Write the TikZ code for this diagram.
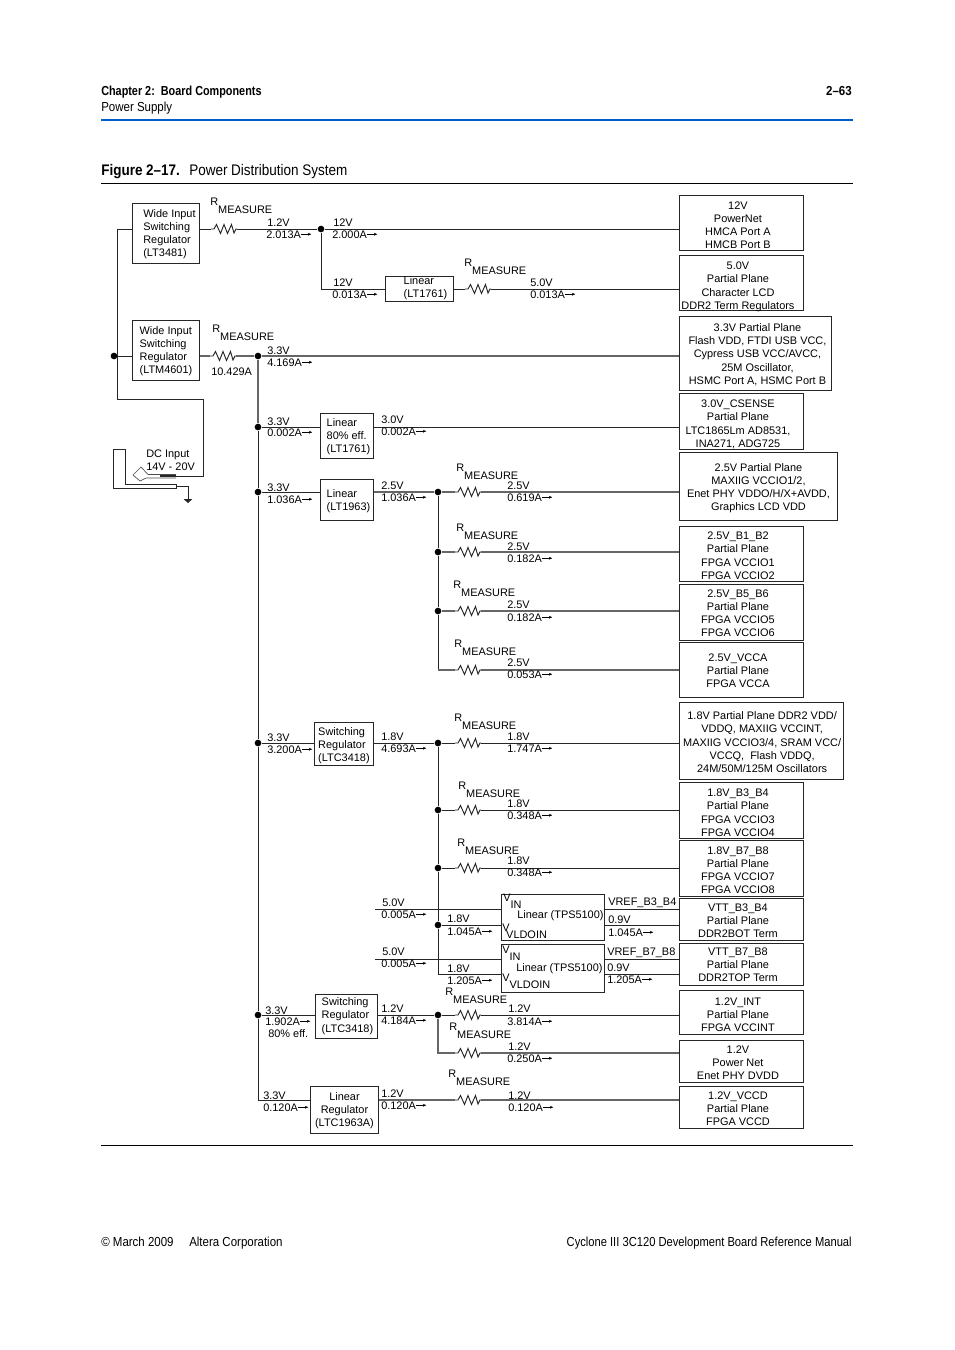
\documentclass[tikz,border=0pt]{standalone}
\usepackage{fontspec}
\usepackage{tikz}
\usetikzlibrary{arrows.meta, calc}
\setmainfont{Liberation Sans}
\newfontfamily\narrowfont[FakeStretch=0.88]{Liberation Sans}
\definecolor{hdblue}{RGB}{0, 94, 200}
% box text: drop, then paddings; no height of its own, so the box keeps its size
\newcommand{\cbox}[4]{\raisebox{-#1pt}[0pt][0pt]{\begin{tabular}{@{\hspace{#2pt}}c@{\hspace{#3pt}}}#4\end{tabular}}}
\newcommand{\lbox}[3]{\raisebox{-#1pt}[0pt][0pt]{\begin{tabular}{@{\hspace{#2pt}}l@{}}#3\end{tabular}}}

\begin{document}
\begin{tikzpicture}[
  x=0.75pt, y=-0.75pt,
  boxsize/.style 2 args={minimum width=#1*0.75pt, minimum height=#2*0.75pt},
  pwr/.style={draw=black!85, line width=0.7pt, anchor=north west, align=center, inner sep=0pt,
              font=\fontsize{8.2}{9.9}\selectfont},
  lbl/.style={anchor=base west, inner sep=0pt, font=\fontsize{8.2}{9.75}\selectfont},
  amp/.style={lbl, append after command={(\tikzlastnode.east) edge[ampar] +(10,0)}},
  ampar/.style={draw, -{Stealth[length=2.5pt, width=2.2pt]}, line width=0.35pt},
  rlbl/.style={lbl},
  dot/.style={circle, fill=black, inner sep=0pt, minimum size=5pt},
  wire/.style={draw=black!85, line width=0.7pt},
  wireg/.style={draw=black!60, line width=0.8pt},
  hdtext/.style={anchor=base west, inner sep=0pt, font=\narrowfont\fontsize{9.8}{12}\selectfont},
  figcap/.style={anchor=base west, inner sep=0pt, font=\narrowfont\fontsize{11.5}{14}\selectfont},
  rmeas/.pic={
    \fill[white] (-13,-6) rectangle (13,6);
    \draw[wire, line join=miter] (-13,0) -- (-10,0) -- (-7.5,-4.5) -- (-3.5,4.5) -- (0,-4.5) -- (3.5,4.5) -- (7.5,-4.5) -- (10,4) -- (12,0) -- (13,0);
  }
]
  \useasboundingbox (0,0) rectangle (954,1350);

  % page header and footer
  \node[hdtext, font=\narrowfont\bfseries\addfontfeature{FakeStretch=0.83}\fontsize{9.8}{12}\selectfont] (chapter) at (101,95) {Chapter 2:\ \ Board Components};
  \node[hdtext, font=\narrowfont\bfseries\fontsize{9.8}{12}\selectfont, anchor=base east] (pageno) at (852,95) {2–63};
  \node[hdtext] (section) at (101,111) {Power Supply};
  \coordinate (ruleTopL) at (101,120);
  \coordinate (ruleTopR) at (853,120);
  \draw[hdblue, line width=1.5pt] (ruleTopL) -- (ruleTopR);
  \node[figcap, font=\narrowfont\bfseries\fontsize{11.5}{14}\selectfont] (fignum) at (101,175) {Figure 2–17.};
  \node[figcap] (figtitle) at (189,175) {Power Distribution System};
  \coordinate (ruleCapL) at (101,183);
  \coordinate (ruleCapR) at (853,183);
  \draw[black, line width=0.7pt] (ruleCapL) -- (ruleCapR);
  \coordinate (ruleEndL) at (101,1145);
  \coordinate (ruleEndR) at (853,1145);
  \draw[black, line width=0.7pt] (ruleEndL) -- (ruleEndR);
  \node[hdtext] (copyr) at (101,1246) {© March 2009};
  \node[hdtext] (altera) at (189,1246) {Altera Corporation};
  \node[hdtext, font=\narrowfont\addfontfeature{FakeStretch=0.855}\fontsize{9.8}{12}\selectfont, anchor=base east] (manual) at (852,1246) {Cyclone III 3C120 Development Board Reference Manual};

  % load planes
  \node[pwr, boxsize={124}{55}] (p12v) at (679,195) {\cbox{4.5}{0}{5.25}{12V\\PowerNet\\HMCA Port A\\HMCB Port B}};
  \node[pwr, boxsize={124}{55}] (p50) at (679,255) {\cbox{4.9}{0}{5.25}{5.0V\\Partial Plane\\Character LCD\\DDR2 Term Regulators}};
  \node[pwr, boxsize={152}{74}] (p33) at (679,316) {\cbox{3.4}{3}{0}{3.3V Partial Plane\\Flash VDD, FTDI USB VCC,\\Cypress USB VCC/AVCC,\\25M Oscillator,\\HSMC Port A, HSMC Port B}};
  \node[pwr, boxsize={124}{56}] (p30) at (679,393) {\cbox{4.5}{0}{5.25}{3.0V\_CSENSE\\Partial Plane\\LTC1865Lm AD8531,\\INA271, ADG725}};
  \node[pwr, boxsize={158}{68}] (p25) at (679,452) {\cbox{3.4}{0}{0}{2.5V Partial Plane\\MAXIIG VCCIO1/2,\\Enet PHY VDDO/H/X+AVDD,\\Graphics LCD VDD}};
  \node[pwr, boxsize={124}{55}] (pB1) at (679,526) {\cbox{4.1}{0}{5.25}{2.5V\_B1\_B2\\Partial Plane\\FPGA VCCIO1\\FPGA VCCIO2}};
  \node[pwr, boxsize={124}{56}] (pB5) at (679,584) {\cbox{3.4}{0}{5.25}{2.5V\_B5\_B6\\Partial Plane\\FPGA VCCIO5\\FPGA VCCIO6}};
  \node[pwr, boxsize={124}{55}] (pVCCA) at (679,642) {\cbox{3.4}{0}{5.25}{2.5V\_VCCA\\Partial Plane\\FPGA VCCA}};
  \node[pwr, boxsize={164}{77}] (p18) at (679,702) {\cbox{3.8}{1}{0}{1.8V Partial Plane DDR2 VDD/\\VDDQ, MAXIIG VCCINT,\\MAXIIG VCCIO3/4, SRAM VCC/\\VCCQ,\ \ Flash VDDQ,\\24M/50M/125M Oscillators}};
  \node[pwr, boxsize={124}{56}] (pB3) at (679,782) {\cbox{4.5}{0}{5.25}{1.8V\_B3\_B4\\Partial Plane\\FPGA VCCIO3\\FPGA VCCIO4}};
  \node[pwr, boxsize={124}{56}] (pB7) at (679,840) {\cbox{4.1}{0}{5.25}{1.8V\_B7\_B8\\Partial Plane\\FPGA VCCIO7\\FPGA VCCIO8}};
  \node[pwr, boxsize={124}{42}] (pVTT3) at (679,898) {\cbox{3.8}{0}{5.25}{VTT\_B3\_B4\\Partial Plane\\DDR2BOT Term}};
  \node[pwr, boxsize={124}{42}] (pVTT7) at (679,943) {\cbox{3}{0}{5.25}{VTT\_B7\_B8\\Partial Plane\\DDR2TOP Term}};
  \node[pwr, boxsize={124}{44}] (pINT) at (679,990) {\cbox{4.5}{0}{5.25}{1.2V\_INT\\Partial Plane\\FPGA VCCINT}};
  \node[pwr, boxsize={124}{42}] (pENET) at (679,1040) {\cbox{3.8}{0}{5.25}{1.2V\\Power Net\\Enet PHY DVDD}};
  \node[pwr, boxsize={124}{42}] (pVCCD) at (679,1086) {\cbox{3.8}{0}{5.25}{1.2V\_VCCD\\Partial Plane\\FPGA VCCD}};

  % regulators
  \node[pwr, boxsize={67}{60}] (reg3481) at (132,203) {\lbox{2.6}{5.25}{Wide Input\\Switching\\Regulator\\(LT3481)}};
  \node[pwr, boxsize={67}{60}] (reg4601) at (132,320) {\lbox{2.6}{0}{Wide Input\\Switching\\Regulator\\(LTM4601)}};
  \node[pwr, boxsize={68}{25}] (lin1761) at (385,276) {\lbox{1.5}{9}{Linear\\(LT1761)}};
  \node[pwr, boxsize={53}{45}] (lin80) at (320,413) {\lbox{2.6}{2.25}{Linear\\80\% eff.\\(LT1761)}};
  \node[pwr, boxsize={53}{41}] (lin1963) at (320,479) {\lbox{3}{2.25}{Linear\\(LT1963)}};
  \node[pwr, boxsize={59}{43}] (sw18) at (314,722) {\lbox{3.4}{0}{Switching\\Regulator\\(LTC3418)}};
  \node[pwr, boxsize={103}{46}] (tpsA) at (501,894) {};
  \node[pwr, boxsize={103}{48}] (tpsB) at (501,944) {};
  \node[pwr, boxsize={62}{44}] (sw12) at (315,994) {\lbox{1.9}{1.5}{Switching\\Regulator\\(LTC3418)}};
  \node[pwr, boxsize={68}{47}] (lin12) at (310,1086) {\cbox{2.6}{0}{0}{Linear\\Regulator\\(LTC1963A)}};

  % junctions
  \node[dot] (jIn) at (114,356) {};
  \node[dot] (j12v) at (321,229) {};
  \node[dot] (j33) at (258,356) {};
  \node[dot] (j33b) at (258,427) {};
  \node[dot] (j33c) at (258,492) {};
  \node[dot] (j33d) at (258,743) {};
  \node[dot] (j33e) at (258,1015) {};
  \node[dot] (j25) at (438,492) {};
  \node[dot] (j25b) at (438,552) {};
  \node[dot] (j25c) at (438,611) {};
  \node[dot] (j18) at (438,743) {};
  \node[dot] (j18b) at (438,810) {};
  \node[dot] (j18c) at (438,868) {};
  \node[dot] (j18d) at (438,925) {};
  \node[dot] (j12) at (438,1015) {};

  \coordinate (inTop) at (117,229);
  \coordinate (inLow) at (117,399);
  \coordinate (inBend) at (203,399);
  \coordinate (jackEnd) at (203,476);
  \coordinate (jackHot) at (176,476);
  \coordinate (end25) at (438,670);
  \coordinate (end18) at (438,974);
  \coordinate (vinA) at (375,909);
  \coordinate (vinB) at (375,959);
  \coordinate (end12) at (438,1053);
  \coordinate (end33) at (258,1100);

  % input side
  \draw[wire] (reg3481.west |- inTop) -- (inTop) -- (inLow) -- (inBend) -- (jackEnd) -- (jackHot);
  \draw[wire] (jIn) -- (reg4601.west |- jIn);

  % 12V and 5V
  \draw[wire] (reg3481.east |- j12v) -- (j12v) -- (p12v.west |- j12v);
  \draw[wire] (j12v) |- (lin1761.west);
  \draw[wire] (lin1761.east) -- (p50.west |- lin1761.east);

  % 3.3V rail
  \draw[wireg] (reg4601.east |- j33) -- (j33) -- (p33.west |- j33);
  \draw[wireg] (j33) -- (j33b);
  \draw[wire] (j33b) -- (j33c) -- (j33d) -- (j33e) -- (end33);
  \draw[wire] (j33b) -- (lin80.west |- j33b);
  \draw[wire] (lin80.east |- j33b) -- (p30.west |- j33b);
  \draw[wire] (j33c) -- (lin1963.west |- j33c);

  % 2.5V
  \draw[wireg] (lin1963.east |- j25) -- (j25) -- (p25.west |- j25);
  \draw[wire] (j25) -- (j25b) -- (j25c) -- (end25);
  \draw[wireg] (j25b) -- (pB1.west |- j25b);
  \draw[wireg] (j25c) -- (pB5.west |- j25c);
  \draw[wireg] (end25) -- (pVCCA.west |- end25);

  % 1.8V
  \draw[wire] (j33d) -- (sw18.west |- j33d);
  \draw[wire] (sw18.east |- j18) -- (j18) -- (p18.west |- j18);
  \draw[wire] (j18) -- (j18b) -- (j18c) -- (j18d) -- (end18) -- (tpsB.west |- end18);
  \draw[wire] (j18b) -- (pB3.west |- j18b);
  \draw[wire] (j18c) -- (pB7.west |- j18c);
  \draw[wire] (j18d) -- (tpsA.west |- j18d);
  \draw[wire] (tpsA.east |- j18d) -- (pVTT3.west |- j18d);
  \draw[wire] (vinA) -- (tpsA.west |- vinA);
  \draw[wire] (tpsA.east |- vinA) -- (pVTT3.west |- vinA);
  \draw[wire] (vinB) -- (tpsB.west |- vinB);
  \draw[wire] (tpsB.east |- vinB) -- (pVTT7.west |- vinB);
  \draw[wire] (tpsB.east |- end18) -- (pVTT7.west |- end18);

  % 1.2V
  \draw[wire] (j33e) -- (sw12.west |- j33e);
  \draw[wire] (sw12.east |- j12) -- (j12) -- (pINT.west |- j12);
  \draw[wireg] (j12) -- (end12) -- (pENET.west |- end12);
  \draw[wire] (end33) -- (lin12.west |- end33);
  \draw[wireg] (lin12.east |- end33) -- (pVCCD.west |- end33);

  % sense resistors
  \pic (r3481) at (224,229) {rmeas};
  \pic (r4601) at (223,356) {rmeas};
  \pic (r50) at (478,289) {rmeas};
  \pic (r25) at (468,492) {rmeas};
  \pic (rB1) at (468,552) {rmeas};
  \pic (rB5) at (468,611) {rmeas};
  \pic (rVCCA) at (468,670) {rmeas};
  \pic (r18) at (468,743) {rmeas};
  \pic (rB3) at (468,810) {rmeas};
  \pic (rB7) at (468,868) {rmeas};
  \pic (rINT) at (468,1015) {rmeas};
  \pic (rENET) at (468,1053) {rmeas};
  \pic (rVCCD) at (468,1100) {rmeas};

  % resistor names
  \node[rlbl] (n3481) at (210,213) {\raisebox{6pt}{R}MEASURE};
  \node[rlbl] (n50) at (464,274) {\raisebox{6pt}{R}MEASURE};
  \node[rlbl] (n4601) at (212,340) {\raisebox{6pt}{R}MEASURE};
  \node[rlbl] (n25) at (456,479) {\raisebox{6pt}{R}MEASURE};
  \node[rlbl] (nB1) at (456,539) {\raisebox{6pt}{R}MEASURE};
  \node[rlbl] (nB5) at (453,596) {\raisebox{6pt}{R}MEASURE};
  \node[rlbl] (nVCCA) at (454,655) {\raisebox{6pt}{R}MEASURE};
  \node[rlbl] (n18) at (454,729) {\raisebox{6pt}{R}MEASURE};
  \node[rlbl] (nB3) at (458,797) {\raisebox{6pt}{R}MEASURE};
  \node[rlbl] (nB7) at (457,854) {\raisebox{6pt}{R}MEASURE};
  \node[rlbl] (nINT) at (445,1003) {\raisebox{6pt}{R}MEASURE};
  \node[rlbl] (nENET) at (449,1038) {\raisebox{6pt}{R}MEASURE};
  \node[rlbl] (nVCCD) at (448,1085) {\raisebox{6pt}{R}MEASURE};

  % rail values
  \node[lbl] (v1) at (267,226) {1.2V};
  \node[amp] (a1) at (266,238) {2.013A};
  \node[lbl] (v2) at (333,226) {12V};
  \node[amp] (a2) at (332,238) {2.000A};
  \node[lbl] (v3) at (333,286) {12V};
  \node[amp] (a3) at (332,298) {0.013A};
  \node[lbl] (v4) at (530,286) {5.0V};
  \node[amp] (a4) at (530,298) {0.013A};
  \node[lbl] (v5) at (267,354) {3.3V};
  \node[amp] (a5) at (267,366) {4.169A};
  \node[lbl] (a6) at (211,375) {10.429A};
  \node[lbl] (v7) at (267,425) {3.3V};
  \node[amp] (a7) at (267,436) {0.002A};
  \node[lbl] (v8) at (381,423) {3.0V};
  \node[amp] (a8) at (381,435) {0.002A};
  \node[lbl] (v9) at (267,491) {3.3V};
  \node[amp] (a9) at (267,503) {1.036A};
  \node[lbl] (v10) at (381,489) {2.5V};
  \node[amp] (a10) at (381,501) {1.036A};
  \node[lbl] (v11) at (507,489) {2.5V};
  \node[amp] (a11) at (507,501) {0.619A};
  \node[lbl] (v12) at (507,550) {2.5V};
  \node[amp] (a12) at (507,562) {0.182A};
  \node[lbl] (v13) at (507,608) {2.5V};
  \node[amp] (a13) at (507,621) {0.182A};
  \node[lbl] (v14) at (507,666) {2.5V};
  \node[amp] (a14) at (507,678) {0.053A};
  \node[lbl] (v15) at (267,741) {3.3V};
  \node[amp] (a15) at (267,753) {3.200A};
  \node[lbl] (v16) at (381,740) {1.8V};
  \node[amp] (a16) at (381,752) {4.693A};
  \node[lbl] (v17) at (507,740) {1.8V};
  \node[amp] (a17) at (507,752) {1.747A};
  \node[lbl] (v18) at (507,807) {1.8V};
  \node[amp] (a18) at (507,819) {0.348A};
  \node[lbl] (v19) at (507,864) {1.8V};
  \node[amp] (a19) at (507,876) {0.348A};
  \node[lbl] (v20) at (382,906) {5.0V};
  \node[amp] (a20) at (381,918) {0.005A};
  \node[lbl] (v21) at (447,922) {1.8V};
  \node[amp] (a21) at (447,935) {1.045A};
  \node[lbl] (v22) at (382,955) {5.0V};
  \node[amp] (a22) at (381,967) {0.005A};
  \node[lbl] (v23) at (447,972) {1.8V};
  \node[amp] (a23) at (447,984) {1.205A};
  \node[lbl] (v24) at (608,923) {0.9V};
  \node[amp] (a24) at (608,936) {1.045A};
  \node[lbl] (v25) at (607,971) {0.9V};
  \node[amp] (a25) at (607,983) {1.205A};
  \node[lbl] (v26) at (508,1012) {1.2V};
  \node[amp] (a26) at (507,1025) {3.814A};
  \node[lbl] (v27) at (508,1050) {1.2V};
  \node[amp] (a27) at (507,1062) {0.250A};
  \node[lbl] (v28) at (508,1099) {1.2V};
  \node[amp] (a28) at (508,1111) {0.120A};
  \node[lbl] (v29) at (265,1014) {3.3V};
  \node[amp] (a29) at (265,1025) {1.902A};
  \node[lbl] (eff29) at (268,1037) {80\% eff.};
  \node[lbl] (v30) at (381,1012) {1.2V};
  \node[amp] (a30) at (381,1024) {4.184A};
  \node[lbl] (v31) at (263,1099) {3.3V};
  \node[amp] (a31) at (263,1111) {0.120A};
  \node[lbl] (v32) at (381,1097) {1.2V};
  \node[amp] (a32) at (381,1109) {0.120A};

  % TPS5100 pins
  \node[lbl] (vinLblA) at (503,908) {\raisebox{5pt}{V}IN};
  \node[lbl] (tpsLblA) at (517,918) {Linear (TPS5100)};
  \node[lbl] (vldLblA) at (502,938) {\raisebox{5pt}{V}\hspace{-2.5pt}VLDOIN};
  \node[lbl] (vrefA) at (608,905) {VREF\_B3\_B4};
  \node[lbl] (vinLblB) at (502,960) {\raisebox{5pt}{V}IN};
  \node[lbl] (tpsLblB) at (516,971) {Linear (TPS5100)};
  \node[lbl] (vldLblB) at (502,988) {\raisebox{5pt}{V}VLDOIN};
  \node[lbl] (vrefB) at (607,955) {VREF\_B7\_B8};

  % DC jack
  \node[lbl] (dcIn) at (146,457) {DC Input};
  \node[lbl] (dcV) at (146,470) {14V - 20V};
  \coordinate (plugA) at (113,449);
  \coordinate (plugB) at (125,449);
  \coordinate (plugC) at (125,484);
  \coordinate (plugD) at (176,484);
  \coordinate (plugE) at (176,488);
  \coordinate (plugF) at (113,488);
  \draw[wire] (plugA) -- (plugB) -- (plugC) -- (plugD) -- (plugE) -- (plugF) -- cycle;
  \coordinate (gndA) at (176,486);
  \coordinate (gndC) at (188,503);
  \draw[wire, -{Triangle[length=3pt, width=6.5pt]}] (gndA) -| (gndC);
  \coordinate (tipA) at (176,474.5);
  \coordinate (tipB) at (148,474.5);
  \coordinate (tipC) at (141,467);
  \coordinate (tipD) at (133,475);
  \coordinate (tipE) at (140,481);
  \coordinate (tipF) at (146,478);
  \coordinate (tipG) at (176,478);
  \draw[black!70, line width=0.5pt] (tipA) -- (tipB) -- (tipC) -- (tipD) -- (tipE) -- (tipF) -- (tipG);
  \draw[black!85, line width=1.1pt] (jackHot) -- ++(-16,0);
\end{tikzpicture}
\end{document}
